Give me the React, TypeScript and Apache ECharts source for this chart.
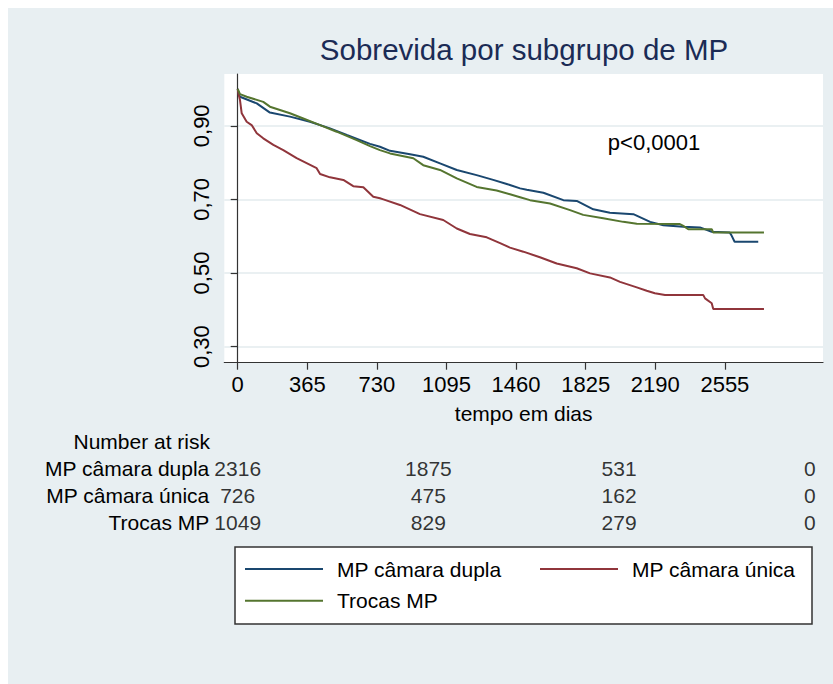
import React, { useEffect, useRef } from 'react';
import * as echarts from 'echarts';

// ---- data ----
const groups = ['MP câmara dupla', 'MP câmara única', 'Trocas MP'];
const colors = ['#1a476f', '#90353b', '#55752f'];

// Kaplan–Meier survival estimates: [day, survival]
const survDupla: [number, number][] = [
  [0, 1.0], [5, 0.988], [12, 0.979], [100, 0.961], [169, 0.936], [274, 0.925], [379, 0.911],
  [484, 0.893], [572, 0.875], [694, 0.851], [746, 0.843], [799, 0.832], [904, 0.823], [973, 0.816],
  [1061, 0.798], [1149, 0.78], [1253, 0.766], [1340, 0.753], [1411, 0.742], [1481, 0.73],
  [1516, 0.726], [1603, 0.718], [1708, 0.698], [1778, 0.696], [1865, 0.673], [1952, 0.664],
  [2075, 0.66], [2163, 0.639], [2232, 0.63], [2337, 0.626], [2424, 0.624], [2486, 0.612],
  [2580, 0.61], [2589, 0.603], [2606, 0.585], [2730, 0.585],
];
const survUnica: [number, number][] = [
  [0, 1.0], [5, 0.985], [12, 0.97], [21, 0.934], [47, 0.911], [73, 0.902], [100, 0.88],
  [134, 0.866], [187, 0.848], [239, 0.834], [309, 0.812], [414, 0.785], [432, 0.769], [484, 0.76],
  [554, 0.753], [606, 0.736], [659, 0.733], [711, 0.707], [746, 0.703], [764, 0.7], [851, 0.685],
  [956, 0.66], [1078, 0.644], [1149, 0.621], [1218, 0.606], [1306, 0.597], [1376, 0.581],
  [1428, 0.569], [1498, 0.558], [1585, 0.543], [1673, 0.526], [1778, 0.513], [1848, 0.499],
  [1952, 0.488], [2005, 0.476], [2093, 0.461], [2145, 0.452], [2188, 0.445], [2241, 0.44],
  [2442, 0.44], [2451, 0.431], [2486, 0.418], [2494, 0.402], [2760, 0.402],
];
const survTrocas: [number, number][] = [
  [0, 1.0], [12, 0.986], [47, 0.979], [134, 0.965], [169, 0.952], [274, 0.934], [344, 0.92],
  [432, 0.902], [519, 0.884], [624, 0.861], [694, 0.845], [746, 0.834], [799, 0.825], [921, 0.812],
  [973, 0.793], [1061, 0.78], [1149, 0.757], [1253, 0.734], [1358, 0.724], [1428, 0.714],
  [1481, 0.706], [1533, 0.698], [1638, 0.689], [1743, 0.671], [1812, 0.658], [1917, 0.649],
  [2022, 0.639], [2093, 0.634], [2319, 0.633], [2337, 0.628], [2363, 0.619], [2486, 0.619],
  [2494, 0.61], [2760, 0.61],
];

const xTicks = [0, 365, 730, 1095, 1460, 1825, 2190, 2555];
const yTicks = [0.3, 0.5, 0.7, 0.9];

// Number at risk table
const riskTimes = [0, 1000, 2000, 3000];
const riskDupla = [2316, 1875, 531, 0];
const riskUnica = [726, 475, 162, 0];
const riskTrocas = [1049, 829, 279, 0];

const title = 'Sobrevida por subgrupo de MP';
const xTitle = 'tempo em dias';
const pText = 'p<0,0001';
const riskTitle = 'Number at risk';

const FONT = "'Liberation Sans', Arial, Helvetica, sans-serif";
const X_MIN = -70.3;
const X_MAX = 3069.6;
const Y_MIN = 0.2563;
const Y_MAX = 1.0408;

export default function App() {
  const ref = useRef<HTMLDivElement>(null);
  useEffect(() => {
    if (!ref.current) return;
    const chart = echarts.init(ref.current, undefined, { renderer: 'svg' });
    const survSets = [survDupla, survUnica, survTrocas];
    const riskSets = [riskDupla, riskUnica, riskTrocas];
    const axisColor = '#333';

    const lineSeries = groups.map((g, i) => ({
      name: g,
      type: 'line',
      xAxisIndex: 0,
      yAxisIndex: 0,
      data: survSets[i],
      symbol: 'none',
      color: colors[i],
      lineStyle: { width: 2, color: colors[i] },
      z: 3,
    }));

    const riskSeries = groups.map((g, i) => ({
      name: 'risk-' + i,
      type: 'scatter',
      xAxisIndex: 1,
      yAxisIndex: 1,
      symbolSize: 1,
      itemStyle: { color: 'rgba(0,0,0,0)' },
      data: riskTimes.map((t, j) => [t, i, riskSets[i][j]]),
      label: {
        show: true,
        position: 'inside',
        formatter: (p: any) => String(p.value[2]),
        fontSize: 21,
        color: '#000',
        fontFamily: FONT,
      },
    }));

    const legendCommon = {
      orient: 'vertical', top: 550, padding: 0,
      icon: 'rect', itemWidth: 78, itemHeight: 2, itemGap: 9.7, z: 5,
      textStyle: { fontSize: 21, color: '#000', lineHeight: 22, padding: [0, 0, 0, 9] },
    };

    chart.setOption({
      animation: false,
      backgroundColor: '#e8eff2',
      textStyle: { fontFamily: FONT },
      grid: [
        { left: 216.3, right: 10, top: 66, height: 288.7, show: true, backgroundColor: '#ffffff', borderWidth: 0 },
        { left: 216.3, right: 10, top: 446.5, height: 81 },
      ],
      xAxis: [
        {
          type: 'value', gridIndex: 0, min: X_MIN, max: X_MAX,
          axisLine: { show: true, onZero: false, lineStyle: { color: axisColor, width: 1.2 } },
          axisTick: { show: true, customValues: xTicks, length: 7, lineStyle: { color: axisColor, width: 1.2 } },
          axisLabel: { customValues: xTicks, fontSize: 22, color: '#000', margin: 11, formatter: (v: number) => String(v) },
          splitLine: { show: false },
          name: xTitle, nameLocation: 'middle', nameGap: 40,
          nameTextStyle: { fontSize: 21, color: '#000' },
        },
        {
          type: 'value', gridIndex: 1, min: X_MIN, max: X_MAX, show: false,
        },
      ],
      yAxis: [
        {
          type: 'value', gridIndex: 0, min: Y_MIN, max: Y_MAX,
          axisLine: { show: true, lineStyle: { color: axisColor, width: 1.2 } },
          axisTick: { show: true, customValues: yTicks, length: 7, lineStyle: { color: axisColor, width: 1.2 } },
          axisLabel: {
            customValues: yTicks, rotate: 90, fontSize: 22, color: '#000', margin: 12,
            formatter: (v: number) => v.toFixed(2).replace('.', ','),
          },
          splitLine: { show: true, lineStyle: { color: '#e3ebee', width: 1.5 } },
        },
        {
          type: 'category', gridIndex: 1, data: groups, inverse: true,
          axisLine: { show: false }, axisTick: { show: false }, splitLine: { show: false },
          axisLabel: { interval: 0, fontSize: 21, color: '#000', margin: 15 },
        },
      ],
      legend: [
        { ...legendCommon, data: [groups[0], groups[2]], left: 237 },
        { ...legendCommon, data: [groups[1]], left: 532 },
      ],
      graphic: [
        {
          type: 'rect', z: 1, silent: true,
          shape: { x: 227, y: 539, width: 577, height: 77 },
          style: { fill: '#ffffff', stroke: '#333', lineWidth: 1.5 },
        },
        {
          type: 'text', x: 516, y: 41.5, z: 5,
          style: { text: title, fontSize: 29.5, fill: '#1b2b55', align: 'center', verticalAlign: 'middle', fontFamily: FONT },
        },
        {
          type: 'text', x: 646, y: 134, z: 5,
          style: { text: pText, fontSize: 22, fill: '#000', align: 'center', verticalAlign: 'middle', fontFamily: FONT },
        },
        {
          type: 'text', x: 202, y: 433, z: 5,
          style: { text: riskTitle, fontSize: 21, fill: '#000', align: 'right', verticalAlign: 'middle', fontFamily: FONT },
        },
      ],
      series: [...lineSeries, ...riskSeries],
    });
    return () => chart.dispose();
  }, []);
  return (
    <div
      ref={ref}
      style={{ position: 'absolute', left: 8, top: 8, width: 825, height: 676 }}
    />
  );
}
